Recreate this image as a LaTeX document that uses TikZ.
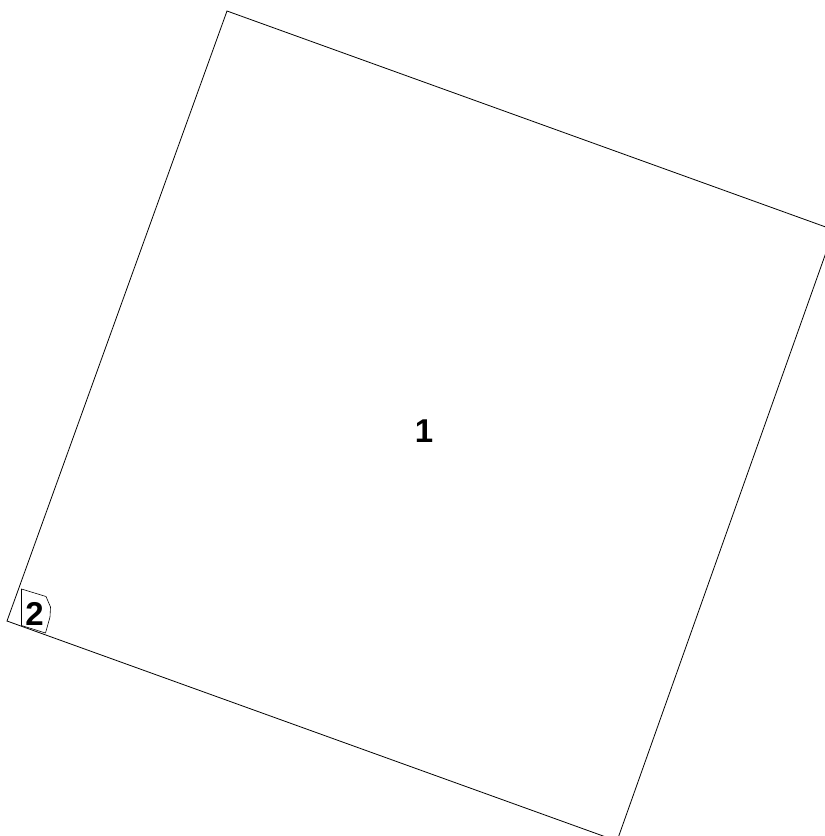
\documentclass[tikz,border=0pt]{standalone}
\usepackage{fontspec}
\setmainfont{Liberation Sans}
\begin{document}
\begin{tikzpicture}[x=1pt,y=-1pt,
  outline/.style={draw=black,line width=0.8pt,line join=miter},
  lbl/.style={font=\fontsize{33}{33}\selectfont\bfseries,inner sep=0pt}]
\useasboundingbox (0,0) rectangle (825,836);
\clip (0,0) rectangle (825,836);
% parcel 1
\coordinate (a1) at (227,11);
\coordinate (b1) at (834,230);
\coordinate (c1) at (617,841);
\coordinate (d1) at (7,621);
\draw[outline] (a1) -- (b1) -- (c1) -- (d1) -- cycle;
% parcel 2
\coordinate (p1) at (21.5,589);
\coordinate (p2) at (46,596.5);
\coordinate (p3) at (50.5,607);
\coordinate (p4) at (50,617);
\coordinate (p5) at (45.5,633);
\coordinate (p6) at (21.5,625.5);
\draw[outline,line width=0.6pt] (p1) -- (p2) -- (p3) -- (p4) -- (p5) -- (p6) -- cycle;
\node[lbl] (n1) at (424,431) {1};
\node[lbl] (n2) at (34.5,614) {2};
\end{tikzpicture}
\end{document}
